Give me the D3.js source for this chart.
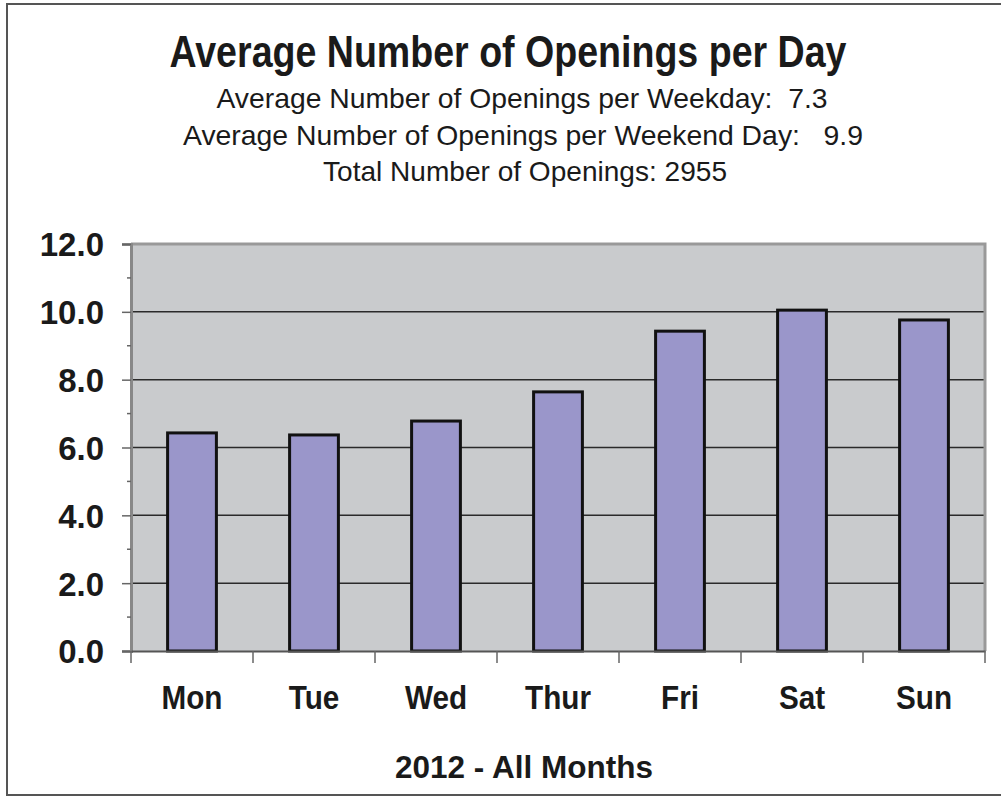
<!DOCTYPE html>
<html>
<head>
<meta charset="utf-8">
<script src="https://cdn.jsdelivr.net/npm/d3@7"></script>
<style>
  body { margin: 0; background: #fff; }
  svg { display: block; font-family: "Liberation Sans", Arial, sans-serif; }
</style>
</head>
<body>
<div id="vis"></div>
<script>
const FRAME_WIDTH = 1001;
const FRAME_HEIGHT = 797;
const MARGINS = { top: 244, bottom: 146, left: 131, right: 16 };
const VIS_WIDTH = FRAME_WIDTH - MARGINS.left - MARGINS.right;
const VIS_HEIGHT = FRAME_HEIGHT - MARGINS.top - MARGINS.bottom;

// data
const DAYS = ["Mon", "Tue", "Wed", "Thur", "Fri", "Sat", "Sun"];
const OPENINGS = [6.43, 6.37, 6.78, 7.64, 9.43, 10.05, 9.76];
const Y_TICKS = [0, 2, 4, 6, 8, 10, 12];
const Y_MINOR = [1, 3, 5, 7, 9, 11];
const TITLE = "Average Number of Openings per Day";
const SUBTITLES = [
  "Average Number of Openings per Weekday:  7.3",
  "Average Number of Openings per Weekend Day:   9.9",
  "Total Number of Openings: 2955",
];
const X_TITLE = "2012 - All Months";

const data = DAYS.map((d, i) => ({ day: d, value: OPENINGS[i] }));

const FRAME = d3
  .select("#vis")
  .append("svg")
  .attr("width", FRAME_WIDTH)
  .attr("height", FRAME_HEIGHT);

// outer border
FRAME.append("rect")
  .attr("x", 7)
  .attr("y", 4)
  .attr("width", FRAME_WIDTH + 10)
  .attr("height", 791)
  .attr("fill", "#fff")
  .attr("stroke", "#555")
  .attr("stroke-width", 2);

const X_SCALE = d3
  .scaleBand()
  .domain(DAYS)
  .range([0, VIS_WIDTH])
  .paddingInner(0.6)
  .paddingOuter(0.3);

const X_BOUNDS = d3
  .scaleLinear()
  .domain([0, DAYS.length])
  .range([0, VIS_WIDTH]);

const Y_SCALE = d3.scaleLinear().domain([0, 12]).range([VIS_HEIGHT, 0]);

const PLOT = FRAME.append("g")
  .attr("transform", `translate(${MARGINS.left},${MARGINS.top})`);

// plot background
PLOT.append("rect")
  .attr("width", VIS_WIDTH)
  .attr("height", VIS_HEIGHT)
  .attr("fill", "#c9cbcd");

// gridlines
PLOT.selectAll(".grid")
  .data(Y_TICKS.filter((t) => t > 0 && t < 12))
  .enter()
  .append("line")
  .attr("x1", 0)
  .attr("x2", VIS_WIDTH)
  .attr("y1", (d) => Y_SCALE(d))
  .attr("y2", (d) => Y_SCALE(d))
  .attr("stroke", "#2a2a2a")
  .attr("stroke-width", 1.5);

// top and right border of plot
PLOT.append("path")
  .attr("d", `M0,${Y_SCALE(12)}H${VIS_WIDTH}V${VIS_HEIGHT}`)
  .attr("fill", "none")
  .attr("stroke", "#999")
  .attr("stroke-width", 3);

// bars
PLOT.selectAll(".bar")
  .data(data)
  .enter()
  .append("rect")
  .attr("x", (d) => X_SCALE(d.day))
  .attr("y", (d) => Y_SCALE(d.value))
  .attr("width", X_SCALE.bandwidth())
  .attr("height", (d) => VIS_HEIGHT - Y_SCALE(d.value))
  .attr("fill", "#9a96ca")
  .attr("stroke", "#111")
  .attr("stroke-width", 3);

// y axis
const yAxis = PLOT.append("g")
  .call(
    d3.axisLeft(Y_SCALE)
      .tickValues(Y_TICKS)
      .tickFormat(d3.format(".1f"))
      .tickSize(9)
      .tickPadding(18)
  );
yAxis.select(".domain").attr("stroke", "#888").attr("stroke-width", 3);
yAxis.selectAll(".tick line").attr("stroke", "#666").attr("stroke-width", 1.5);
yAxis.selectAll(".tick text")
  .attr("fill", "#1a1a1a")
  .style("font-size", "33px")
  .style("font-weight", "bold")
  .attr("dy", "0.36em");

PLOT.selectAll(".minor")
  .data(Y_MINOR)
  .enter()
  .append("line")
  .attr("x1", -4)
  .attr("x2", 0)
  .attr("y1", (d) => Y_SCALE(d))
  .attr("y2", (d) => Y_SCALE(d))
  .attr("stroke", "#666")
  .attr("stroke-width", 1.5);

// x axis
const xAxis = PLOT.append("g")
  .attr("transform", `translate(0,${VIS_HEIGHT})`)
  .call(d3.axisBottom(X_SCALE).tickSize(0).tickPadding(35));
xAxis.select(".domain").attr("stroke", "#555").attr("stroke-width", 2);
xAxis.selectAll(".tick text")
  .attr("fill", "#1a1a1a")
  .style("font-size", "33px")
  .style("font-weight", "bold")
  .attr("transform", "scale(0.9,1)");

PLOT.selectAll(".xtick")
  .data(d3.range(DAYS.length + 1))
  .enter()
  .append("line")
  .attr("x1", (d) => X_BOUNDS(d))
  .attr("x2", (d) => X_BOUNDS(d))
  .attr("y1", VIS_HEIGHT)
  .attr("y2", VIS_HEIGHT + 12)
  .attr("stroke", "#666")
  .attr("stroke-width", 1.5);

// titles
FRAME.append("text")
  .attr("x", 508)
  .attr("y", 67)
  .attr("text-anchor", "middle")
  .attr("textLength", 677)
  .attr("lengthAdjust", "spacingAndGlyphs")
  .style("font-size", "44px")
  .style("font-weight", "bold")
  .attr("fill", "#1a1a1a")
  .text(TITLE);

const SUB_Y = [108, 145, 181];
const SUB_W = [611, 680, 404];
const SUB_X = [522, 523, 525];
FRAME.selectAll(".sub")
  .data(SUBTITLES)
  .enter()
  .append("text")
  .attr("x", (d, i) => SUB_X[i])
  .attr("y", (d, i) => SUB_Y[i])
  .attr("text-anchor", "middle")
  .attr("textLength", (d, i) => SUB_W[i])
  .attr("lengthAdjust", "spacingAndGlyphs")
  .style("font-size", "28px")
  .style("white-space", "pre")
  .attr("fill", "#1a1a1a")
  .text((d) => d);

FRAME.append("text")
  .attr("x", 524)
  .attr("y", 778)
  .attr("text-anchor", "middle")
  .attr("textLength", 258)
  .attr("lengthAdjust", "spacingAndGlyphs")
  .style("font-size", "32px")
  .style("font-weight", "bold")
  .attr("fill", "#1a1a1a")
  .text(X_TITLE);
</script>
</body>
</html>
